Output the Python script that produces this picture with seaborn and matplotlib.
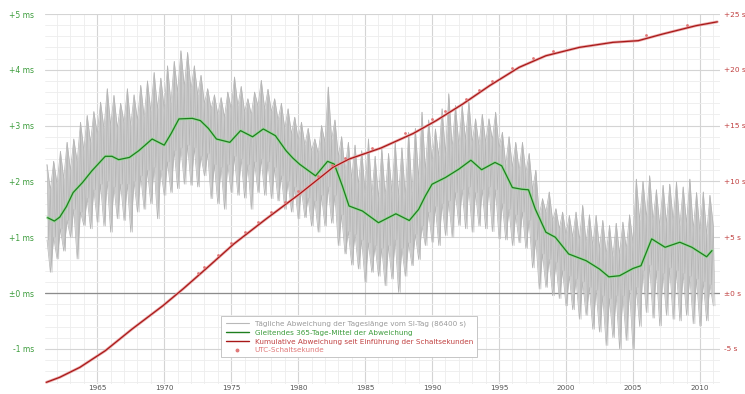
import numpy as np
import matplotlib
matplotlib.use("Agg")
import matplotlib.pyplot as plt
import seaborn as sns
from matplotlib.lines import Line2D
from matplotlib.ticker import MultipleLocator, FixedLocator

# daily LOD deviation envelope (ms), quarter-year samples from 1961.25 to 2011.0
gray_top = [
    2.30, 1.85, 2.36,
    1.95, 2.54, 2.05, 2.70,
    2.20, 2.76, 2.35, 3.06,
    2.55, 3.18, 2.70, 3.25,
    2.85, 3.42, 2.95, 3.66,
    3.00, 3.54, 2.95, 3.40,
    3.05, 3.66, 3.00, 3.55,
    3.10, 3.72, 3.15, 3.80,
    3.25, 3.95, 3.30, 3.85,
    3.30, 4.07, 3.40, 4.15,
    3.60, 4.34, 3.70, 4.31,
    3.65, 4.07, 3.55, 3.90,
    3.40, 3.66, 3.30, 3.55,
    3.20, 3.50, 3.15, 3.60,
    3.30, 3.87, 3.35, 3.70,
    3.25, 3.48, 3.20, 3.60,
    3.35, 3.81, 3.30, 3.65,
    3.25, 3.48, 3.10, 3.40,
    2.95, 3.30, 2.85, 3.15,
    2.75, 3.06, 2.65, 2.95,
    2.55, 2.76, 2.50, 3.00,
    2.70, 3.69, 2.75, 3.10,
    2.45, 2.80, 2.20, 2.70,
    2.05, 2.65, 1.95, 2.55,
    1.80, 2.76, 1.75, 2.45,
    1.70, 2.58, 1.75, 2.50,
    1.80, 2.70, 1.75, 2.60,
    1.75, 2.88, 1.80, 2.95,
    2.05, 3.24, 2.20, 3.10,
    2.35, 2.94, 2.45, 3.30,
    2.50, 3.57, 2.60, 3.36,
    2.65, 3.35, 2.75, 3.42,
    2.70, 3.12, 2.65, 3.20,
    2.70, 3.12, 2.75, 3.24,
    2.60, 2.88, 2.30, 2.80,
    2.25, 2.70, 2.20, 2.70,
    2.15, 2.50, 1.85, 2.20,
    1.40, 1.69, 1.45, 1.81,
    1.30, 1.51, 1.15, 1.45,
    1.05, 1.39, 1.00, 1.45,
    0.95, 1.57, 0.90, 1.40,
    0.85, 1.39, 0.80, 1.30,
    0.70, 1.21, 0.65, 1.25,
    0.70, 1.27, 0.80, 1.40,
    0.90, 2.04, 1.30, 2.00,
    1.35, 2.10, 1.30, 1.85,
    1.20, 1.93, 1.25, 1.95,
    1.30, 1.99, 1.20, 1.90,
    1.25, 2.04, 1.15, 1.80,
    1.10, 1.81, 1.05, 1.75,
    1.20,
]
gray_bot = [
    0.95, 0.37, 1.00,
    0.61, 1.15, 0.75, 1.30,
    1.00, 1.50, 0.61, 1.45,
    1.21, 1.70, 1.15, 1.85,
    1.27, 1.95, 1.20, 2.00,
    1.09, 1.90, 1.33, 1.95,
    1.30, 1.95, 1.09, 2.00,
    1.45, 2.10, 1.50, 2.20,
    1.60, 2.25, 1.33, 2.20,
    1.75, 2.35, 1.80, 2.55,
    1.87, 2.60, 1.95, 2.65,
    1.93, 2.60, 1.90, 2.45,
    2.10, 2.50, 1.69, 2.30,
    1.60, 2.25, 1.50, 2.30,
    1.80, 2.45, 1.75, 2.40,
    1.70, 2.30, 1.50, 2.35,
    1.80, 2.40, 1.75, 2.35,
    1.69, 2.25, 1.65, 2.10,
    1.50, 2.00, 1.45, 1.90,
    1.33, 1.85, 1.35, 1.70,
    1.20, 1.65, 1.09, 1.75,
    1.20, 1.90, 1.25, 1.75,
    0.85, 1.40, 0.70, 1.10,
    0.50, 1.05, 0.43, 0.95,
    0.19, 0.90, 0.37, 0.85,
    0.30, 0.80, 0.13, 0.85,
    0.25, 0.95, 0.01, 0.80,
    0.30, 0.90, 0.49, 1.05,
    0.60, 1.20, 0.85, 1.45,
    0.91, 1.55, 0.85, 1.60,
    1.03, 1.65, 1.00, 1.80,
    1.21, 1.85, 1.15, 1.90,
    1.09, 1.80, 1.20, 1.85,
    1.15, 1.90, 1.10, 1.85,
    0.97, 1.60, 0.95, 1.50,
    0.85, 1.40, 0.90, 1.45,
    0.80, 1.30, 0.45, 0.95,
    0.07, 0.70, 0.10, 0.60,
    -0.05, 0.55, -0.10, 0.40,
    -0.23, 0.30, -0.30, 0.25,
    -0.47, 0.20, -0.40, 0.10,
    -0.65, 0.05, -0.70, -0.05,
    -0.94, -0.10, -0.80, -0.05,
    -1.00, -0.05, -0.85, 0.05,
    -1.00, 0.10, -0.60, 0.40,
    -0.35, 0.50, -0.45, 0.40,
    -0.59, 0.35, -0.40, 0.45,
    -0.47, 0.40, -0.50, 0.35,
    -0.40, 0.30, -0.55, 0.25,
    -0.59, 0.20, -0.50, 0.15,
    -0.23,
]
gray_years = 1961.25 + 0.25 * np.arange(len(gray_top))

# 365-day running mean (ms)
green_years = [1961.3, 1961.8, 1962.2, 1962.7, 1963.2, 1963.9, 1964.6, 1965.6, 1966.1,
               1966.6, 1967.4, 1968.1, 1969.1, 1970.0, 1970.5, 1971.1, 1972.1, 1972.7,
               1973.3, 1973.9, 1974.9, 1975.7, 1976.6, 1977.4, 1978.3, 1979.1, 1979.6,
               1980.1, 1981.3, 1982.2, 1982.7, 1983.3, 1983.8, 1984.8, 1986.0, 1987.3,
               1988.3, 1989.0, 1989.5, 1990.0, 1991.0, 1992.0, 1992.9, 1993.7, 1994.7,
               1995.2, 1996.0, 1996.7, 1997.2, 1997.7, 1998.5, 1999.2, 2000.2, 2001.5,
               2002.5, 2003.2, 2004.0, 2005.0, 2005.6, 2006.4, 2007.4, 2008.5, 2009.4,
               2010.5, 2010.9]
green_ms = [1.35, 1.29, 1.36, 1.55, 1.80, 1.98, 2.19, 2.45, 2.45,
            2.39, 2.43, 2.55, 2.76, 2.65, 2.85, 3.12, 3.13, 3.09,
            2.95, 2.76, 2.70, 2.91, 2.80, 2.94, 2.82, 2.55, 2.42,
            2.31, 2.10, 2.36, 2.31, 1.92, 1.56, 1.47, 1.26, 1.42,
            1.30, 1.50, 1.74, 1.95, 2.07, 2.22, 2.38, 2.21, 2.34,
            2.28, 1.89, 1.86, 1.85, 1.51, 1.09, 1.00, 0.70, 0.58,
            0.43, 0.29, 0.31, 0.44, 0.49, 0.97, 0.82, 0.91, 0.82,
            0.65, 0.76]

# cumulative deviation (s)
red_years = [1961.2, 1962.2, 1963.7, 1965.6, 1967.6, 1969.9, 1971.4, 1973.1, 1975.2,
             1977.6, 1980.1, 1982.6, 1983.8, 1986.2, 1988.6, 1990.3, 1992.3, 1994.3,
             1996.5, 1998.5, 2001.0, 2003.5, 2005.4, 2007.2, 2009.7, 2011.3]
red_s = [-8.0, -7.55, -6.66, -5.17, -3.23, -1.14, 0.36, 2.15, 4.4,
         6.63, 8.87, 11.26, 12.0, 13.0, 14.3, 15.44, 16.94, 18.58,
         20.22, 21.26, 22.01, 22.46, 22.61, 23.2, 23.95, 24.3]

# UTC leap seconds
leap_years = [1972.5, 1973.0, 1974.0, 1975.0, 1976.0, 1977.0, 1978.0, 1979.0, 1980.0,
              1981.5, 1982.5, 1983.5, 1985.5, 1988.0, 1990.0, 1991.0, 1992.5, 1993.5,
              1994.5, 1996.0, 1997.5, 1999.0, 2006.0, 2009.0]
leap_s = [1.8, 2.35, 3.4, 4.5, 5.45, 6.4, 7.3, 8.2, 9.1,
          10.5, 11.45, 12.1, 13.0, 14.3, 15.55, 16.3, 17.4, 18.2,
          19.0, 20.15, 21.05, 21.7, 23.1, 24.05]

left_ticks = [5, 4, 3, 2, 1, 0, -1]
left_labels = ["+5 ms", "+4 ms", "+3 ms", "+2 ms", "+1 ms", "±0 ms", "-1 ms"]
right_ticks = [25, 20, 15, 10, 5, 0, -5]
right_labels = ["+25 s", "+20 s", "+15 s", "+10 s", "+5 s", "±0 s", "-5 s"]
year_ticks = [1965, 1970, 1975, 1980, 1985, 1990, 1995, 2000, 2005, 2010]

legend_labels = ["Tägliche Abweichung der Tageslänge vom SI-Tag (86400 s)",
                 "Gleitendes 365-Tage-Mittel der Abweichung",
                 "Kumulative Abweichung seit Einführung der Schaltsekunden",
                 "UTC-Schaltsekunde"]

sns.set_theme(style="white")
plt.rcParams['font.family'] = ['DejaVu Sans']

c_gray = "#b4b4b4"
c_green = "#1f7f1f"
c_green_txt = "#3c9c3c"
c_red = "#a81818"
c_red_txt = "#c04040"
c_pink = "#e07878"

fig = plt.figure(figsize=(7.45, 3.94), dpi=100)
ax = fig.add_axes([45 / 745, 1 - 384 / 394, 675 / 745, 370 / 394])
ax2 = ax.twinx()

ax.set_xlim(1961.1, 2011.5)
ax.set_ylim(-1.63, 5.0)
ax2.set_ylim(-8.15, 25.0)

# grid
ax.xaxis.set_major_locator(FixedLocator(year_ticks))
ax.xaxis.set_minor_locator(MultipleLocator(1))
ax.yaxis.set_major_locator(FixedLocator(left_ticks))
ax.yaxis.set_minor_locator(MultipleLocator(0.2))
ax.grid(which="major", color="#d4d4d4", lw=0.8)
ax.grid(which="minor", color="#ededed", lw=0.6)
ax.set_axisbelow(True)
ax.axhline(0, color="#8c8c8c", lw=0.9, zorder=1)

# daily deviation band
zig_x = np.ravel(np.column_stack([gray_years, gray_years + 0.125]))
zig_y = np.ravel(np.column_stack([gray_top, gray_bot]))
ax.fill_between(gray_years, gray_bot, gray_top, color="#cbcbcb", lw=0, zorder=2)
sns.lineplot(x=zig_x, y=zig_y, ax=ax, color=c_gray, lw=0.45, sort=False, zorder=3)
sns.lineplot(x=gray_years, y=gray_top, ax=ax, color=c_gray, lw=0.5, zorder=3)
sns.lineplot(x=gray_years, y=gray_bot, ax=ax, color=c_gray, lw=0.5, zorder=3)

# running mean
sns.lineplot(x=green_years, y=green_ms, ax=ax, color="#9ad89a", lw=2.2, zorder=4)
sns.lineplot(x=green_years, y=green_ms, ax=ax, color=c_green, lw=0.9, zorder=5)

# cumulative
sns.lineplot(x=red_years, y=red_s, ax=ax2, color="#eaa8a8", lw=2.0, zorder=4)
sns.lineplot(x=red_years, y=red_s, ax=ax2, color=c_red, lw=0.9, zorder=5)
sns.scatterplot(x=leap_years, y=leap_s, ax=ax2, color=c_pink, s=4, linewidth=0, zorder=6)

# ticks
ax.set_yticks(left_ticks)
ax.set_yticklabels(left_labels)
ax2.set_yticks(right_ticks)
ax2.set_yticklabels(right_labels)
ax.set_xticks(year_ticks)
ax.set_xticklabels([str(y) for y in year_ticks])
ax.tick_params(axis="y", which="both", length=0, labelsize=5.5, labelcolor=c_green_txt, pad=8)
ax2.tick_params(axis="y", which="both", length=0, labelsize=5.3, labelcolor=c_red_txt, pad=3)
ax.tick_params(axis="x", which="both", length=0, labelsize=5.2, labelcolor="#555555", pad=0.5)
ax.set_xlabel("")
ax.set_ylabel("")
ax2.set_ylabel("")
for a in (ax, ax2):
    for s in a.spines.values():
        s.set_visible(False)

handles = [
    Line2D([], [], color="#b8b8b8", lw=0.8),
    Line2D([], [], color=c_green, lw=1.0),
    Line2D([], [], color=c_red, lw=1.0),
    Line2D([], [], color=c_pink, marker="o", ms=1.8, lw=0),
]
leg = ax2.legend(handles, legend_labels, loc="lower left", bbox_to_anchor=(0.256, 0.062),
                 fontsize=5.2, frameon=True, fancybox=False, edgecolor="#bdbdbd",
                 framealpha=1, handlelength=3.2, borderpad=0.6, labelspacing=0.35,
                 handletextpad=0.8)
leg.get_frame().set_linewidth(0.6)
for txt, col in zip(leg.get_texts(), ["#9a9a9a", c_green_txt, c_red_txt, c_pink]):
    txt.set_color(col)

fig.savefig("out.png", dpi=100)
